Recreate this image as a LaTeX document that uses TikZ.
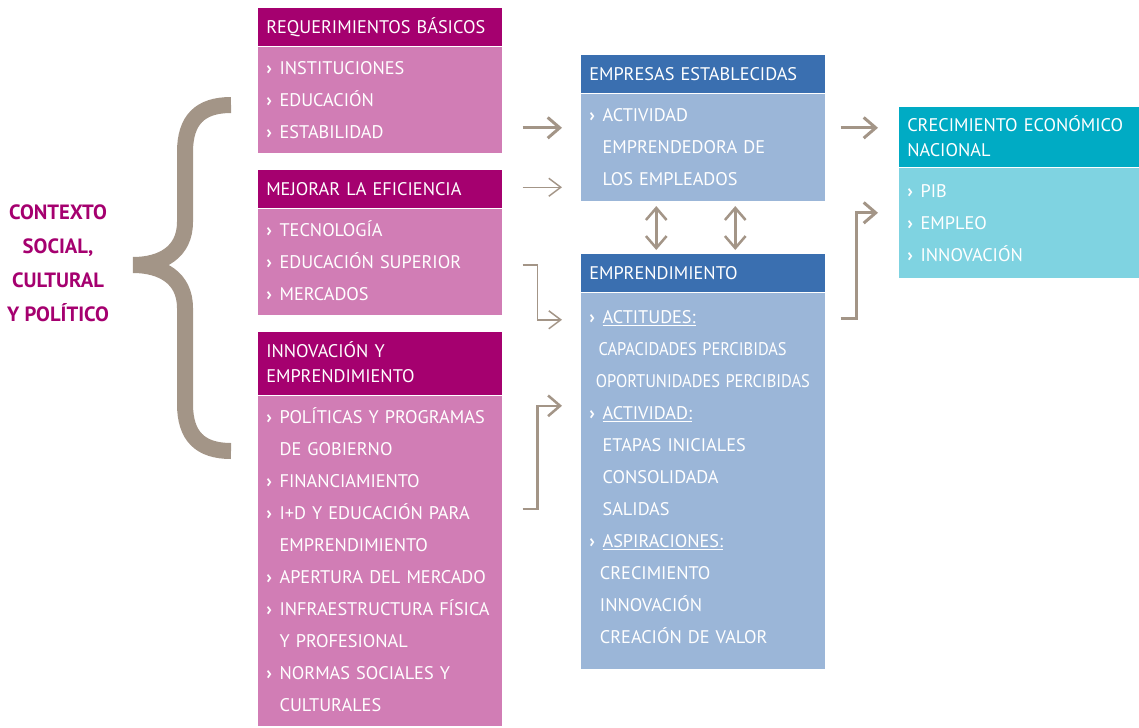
\documentclass[tikz,border=0pt]{standalone}
\usepackage{fontspec}
\usepackage{graphicx}
\setmainfont{PT Sans}
\usetikzlibrary{arrows.meta, positioning, calc}

\definecolor{gemmag}{HTML}{A5006F}
\definecolor{gempink}{HTML}{D17DB5}
\definecolor{gemblue}{HTML}{3A6FB0}
\definecolor{gemlblue}{HTML}{9BB6D8}
\definecolor{gemteal}{HTML}{00ABC4}
\definecolor{gemlteal}{HTML}{7FD3E1}
\definecolor{gemgray}{HTML}{A39587}

\newcommand{\itm}{\makebox[10pt][l]{\textbf{›}}}
\newcommand{\cnt}{\hspace*{10pt}}
\newcommand{\tight}[1]{\scalebox{0.9}[1]{#1}}

\begin{document}
\begin{tikzpicture}[x=0.75pt, y=-0.75pt,
    headbox/.style={anchor=north west, inner xsep=6pt, inner ysep=0pt, align=left, text=white,
        font=\fontsize{13.7}{18.75}\selectfont, text height=9.6pt, text depth=0pt, minimum height=28.5pt},
    bodybox/.style={anchor=north west, inner xsep=6pt, inner ysep=3.75pt, align=left, text=white,
        font=\fontsize{13.7}{24}\selectfont},
    maghead/.style={headbox, fill=gemmag, text width=171pt},
    pinkbody/.style={bodybox, fill=gempink, text width=171pt},
    bluehead/.style={headbox, fill=gemblue, text width=171pt},
    bluebody/.style={bodybox, fill=gemlblue, text width=171pt},
    tealhead/.style={headbox, fill=gemteal, text width=168pt},
    tealbody/.style={bodybox, fill=gemlteal, text width=168pt},
    flow/.style={draw=gemgray, line width=2.25pt, -{Straight Barb[length=9pt, width=15.5pt]}},
    thinflow/.style={draw=gemgray, line width=1.1pt, -{Straight Barb[length=9pt, width=13.5pt]}},
    twoway/.style={draw=gemgray, line width=1.9pt, {Straight Barb[length=9pt, width=15.5pt]}-{Straight Barb[length=9pt, width=15.5pt]}}]
    \useasboundingbox (0,0) rectangle (1139,728);

    % contexto
    \node[align=center, text=gemmag, font=\bfseries\fontsize{15.5}{25.5}\selectfont, text height=87.3pt, text depth=0pt] (ctx) at (58,263)
        {CONTEXTO\\SOCIAL,\\CULTURAL\\Y POLÍTICO};
    \draw[gemgray, line width=12pt] (231,105) .. controls (200,105) and (185,120) .. (185,152) -- (185,222)
        .. controls (185,252) and (162,265) .. (133,265);
    \draw[gemgray, line width=12pt] (133,265) .. controls (162,265) and (185,278) .. (185,308) -- (185,404)
        .. controls (185,436) and (200,451) .. (231,451);

    % pilares
    \node[maghead] (reqhead) at (258,8) {REQUERIMIENTOS BÁSICOS};
    \node[pinkbody, minimum height=79.5pt] (reqbody) at (reqhead.south west)
        {\strut\itm INSTITUCIONES\\\itm EDUCACIÓN\\\itm ESTABILIDAD\strut};
    \node[maghead] (mejhead) at (258,170) {MEJORAR LA EFICIENCIA};
    \node[pinkbody, minimum height=79.5pt] (mejbody) at (mejhead.south west)
        {\strut\itm TECNOLOGÍA\\\itm EDUCACIÓN SUPERIOR\\\itm MERCADOS\strut};
    \node[maghead, minimum height=47.25pt, text depth=18.75pt] (innhead) at (258,332) {INNOVACIÓN Y\\EMPRENDIMIENTO};
    \node[pinkbody, minimum height=247.5pt] (innbody) at (innhead.south west)
        {\strut\itm POLÍTICAS Y PROGRAMAS\\\cnt DE GOBIERNO\\\itm FINANCIAMIENTO\\\itm I+D Y EDUCACIÓN PARA\\
         \cnt EMPRENDIMIENTO\\\itm APERTURA DEL MERCADO\\\itm INFRAESTRUCTURA FÍSICA\\\cnt Y PROFESIONAL\\
         \itm NORMAS SOCIALES Y\\\cnt CULTURALES\strut};

    % empresas y emprendimiento
    \node[bluehead] (emphead) at (581,55) {EMPRESAS ESTABLECIDAS};
    \node[bluebody, minimum height=80.25pt] (empbody) at (emphead.south west)
        {\strut\itm ACTIVIDAD\\\cnt EMPRENDEDORA DE\\\cnt LOS EMPLEADOS\strut};
    \node[bluehead] (emprhead) at (581,254) {EMPRENDIMIENTO};
    \node[bluebody, minimum height=282pt] (emprbody) at (emprhead.south west)
        {\strut\itm\underline{ACTITUDES:}\\\hspace*{7pt}\tight{CAPACIDADES PERCIBIDAS}\\\hspace*{5pt}\tight{OPORTUNIDADES PERCIBIDAS}\\
         \itm\underline{ACTIVIDAD:}\\\cnt ETAPAS INICIALES\\\cnt CONSOLIDADA\\\cnt SALIDAS\\
         \itm\underline{ASPIRACIONES:}\\\hspace*{8pt}CRECIMIENTO\\\hspace*{8pt}INNOVACIÓN\\
         \hspace*{8pt}CREACIÓN DE VALOR\rule[-13pt]{0pt}{1pt}};

    % crecimiento
    \node[tealhead, minimum height=45pt, text depth=18.75pt] (crechead) at (899,107) {CRECIMIENTO ECONÓMICO\\NACIONAL};
    \node[tealbody, minimum height=82.5pt] (crecbody) at (crechead.south west)
        {\strut\itm PIB\\\itm EMPLEO\\\itm INNOVACIÓN\strut};

    % flechas
    \coordinate (a1) at ($(reqbody.east)+(20,28)$);
    \coordinate (a2) at ($(mejhead.east)+(20,-2)$);
    \coordinate (a3) at ($(mejbody.east)+(20,3)$);
    \coordinate (a4) at ($(innbody.east)+(20,-52)$);
    \coordinate (a5) at ($(empbody.east)+(15,-19.5)$);
    \coordinate (a6) at ($(emprbody.east)+(15,-162)$);
    \draw[flow] (a1) -- ($(a1 -| empbody.west)+(-19,0)$);
    \draw[thinflow] (a2) -- ($(a2 -| empbody.west)+(-19,0)$);
    \draw[thinflow] (a3) -- ++(15,0) |- ($(emprbody.west)+(-19,-161)$);
    \draw[flow, line width=1.9pt] (a4) -- ++(15,0) |- ($(emprbody.west)+(-19,-75)$);
    \draw[flow] (a5) -- ($(a5 -| crecbody.west)+(-21,0)$);
    \draw[flow] (a6) -- ++(16,0) |- ($(crecbody.west)+(-21,-10)$);
    \draw[twoway] ($(empbody.south)+(-47,5)$) -- ($(emprhead.north)+(-47,-4)$);
    \draw[twoway] ($(empbody.south)+(32,5)$) -- ($(emprhead.north)+(32,-4)$);
\end{tikzpicture}
\end{document}
